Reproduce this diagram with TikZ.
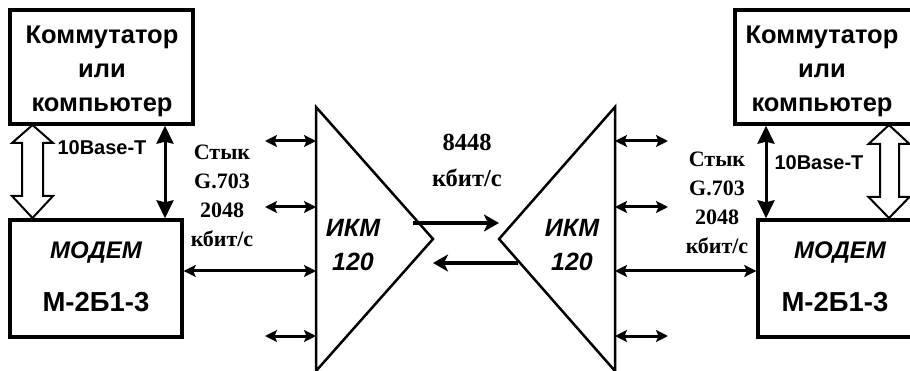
\documentclass[tikz,border=0pt]{standalone}
\usepackage{fontspec}
\setmainfont{Liberation Serif}
\newfontfamily\arialf{Liberation Sans}
\usetikzlibrary{arrows.meta}
\begin{document}
\begin{tikzpicture}[x=1pt,y=-1pt,
  box/.style={draw,line width=3.4pt,inner sep=0pt},
  tri/.style={draw,line width=2.5pt,line join=miter},
  sarr/.style={line width=3pt,{Stealth[length=12pt,width=12pt,inset=2.5pt]}-{Stealth[length=12pt,width=12pt,inset=2.5pt]}},
  varr/.style={line width=3pt,{Stealth[length=18pt,width=17pt,inset=2pt]}-{Stealth[length=18pt,width=17pt,inset=2pt]}},
  larr/.style={line width=3.8pt,-{Stealth[length=15pt,width=17pt,inset=4pt]}},
  hollow/.style={draw,line width=2pt,fill=white,line join=miter},
  boxtxt/.style={align=center,inner sep=0pt,font=\arialf\bfseries\fontsize{25.5}{34}\selectfont},
  modtxt/.style={inner sep=0pt,font=\arialf\bfseries\itshape\fontsize{24}{24}\selectfont},
  numtxt/.style={inner sep=0pt,font=\arialf\bfseries\fontsize{27.5}{28}\selectfont},
  basetxt/.style={inner sep=0pt,font=\arialf\bfseries\fontsize{20}{20}\selectfont},
  stxt/.style={align=center,inner sep=0pt,font=\bfseries\fontsize{22}{29}\selectfont},
  rtxt/.style={align=center,inner sep=0pt,font=\bfseries\fontsize{24.5}{36}\selectfont},
  ikm/.style={align=center,inner sep=0pt,font=\arialf\bfseries\itshape\fontsize{25}{34}\selectfont}
]
\clip (0,0) rectangle (910,371);
% boxes
\node[box,minimum width=183pt,minimum height=114pt] (swL) at (101.5,67) {};
\node[box,minimum width=172pt,minimum height=117pt] (mdL) at (96,278.5) {};
\node[box,minimum width=185pt,minimum height=114pt] (swR) at (827.5,67) {};
\node[box,minimum width=162pt,minimum height=117pt] (mdR) at (839,278.5) {};
% box texts
\node[boxtxt] (swLt) at (102,71) {Коммутатор\\или\\компьютер};
\node[boxtxt] (swRt) at (822,71) {Коммутатор\\или\\компьютер};
\node[modtxt] (mdLt1) at (96,253) {МОДЕМ};
\node[numtxt] (mdLt2) at (96,302) {М-2Б1-3};
\node[modtxt] (mdRt1) at (840,253) {МОДЕМ};
\node[numtxt] (mdRt2) at (835,302) {М-2Б1-3};
% hollow arrows
\draw[hollow] (32.5,125) -- (53,143) -- (43,143) -- (43,196) -- (53,196) -- (32.5,218)
  -- (12,196) -- (22,196) -- (22,143) -- (12,143) -- cycle;
\draw[hollow] (889,125) -- (909.5,144) -- (899,144) -- (899,197) -- (909.5,197) -- (889,218)
  -- (868.5,197) -- (880,197) -- (880,144) -- (868.5,144) -- cycle;
\node[basetxt] (btL) at (102,148) {10Base-T};
\node[basetxt] (btR) at (819,163) {10Base-T};
% vertical black arrows
\draw[varr] ([xshift=63.5pt]swL.south) -- ([xshift=69pt]mdL.north);
\draw[varr] ([xshift=-61.5pt]swR.south) -- ([xshift=-73pt]mdR.north);
% triangles
\coordinate (tLa) at (316,107);
\coordinate (tLtip) at (433,239);
\coordinate (tLb) at (316,371);
\coordinate (tRa) at (615,107);
\coordinate (tRtip) at (499,239);
\coordinate (tRb) at (615,371);
\draw[tri] (tLa) -- (tLtip) -- (tLb) -- cycle;
\draw[tri] (tRa) -- (tRtip) -- (tRb) -- cycle;
\node[ikm] (ikmL) at (353,245) {ИКМ\\120};
\node[ikm] (ikmR) at (572,245) {ИКМ\\120};
% interface arrows, left
\coordinate (l1) at (265,141); \coordinate (l1e) at (316,141);
\coordinate (l2) at (265,207); \coordinate (l2e) at (316,207);
\coordinate (l3) at (265,336); \coordinate (l3e) at (316,336);
\coordinate (l4e) at (316,271);
\draw[sarr] (l1) -- (l1e);
\draw[sarr] (l2) -- (l2e);
\draw[sarr] (l3) -- (l3e);
\draw[sarr] (mdL.east |- l4e) -- (l4e);
% interface arrows, right
\coordinate (r1) at (668,141); \coordinate (r1e) at (615,141);
\coordinate (r2) at (668,207); \coordinate (r2e) at (615,207);
\coordinate (r3) at (668,336); \coordinate (r3e) at (615,336);
\coordinate (r4e) at (615,271);
\draw[sarr] (r1e) -- (r1);
\draw[sarr] (r2e) -- (r2);
\draw[sarr] (r3e) -- (r3);
\draw[sarr] (r4e) -- (mdR.west |- r4e);
\node[stxt] (stL) at (222,196) {Стык\\G.703\\2048\\кбит/с};
\node[stxt] (stR) at (717,203) {Стык\\G.703\\2048\\кбит/с};
% line arrows
\coordinate (f1) at (413,223); \coordinate (f2) at (499,223);
\coordinate (b1) at (518,263); \coordinate (b2) at (433,263);
\draw[larr] (f1) -- (f2);
\draw[larr] (b1) -- (b2);
\node[rtxt] (rate) at (467,160) {8448\\кбит/с};
\end{tikzpicture}
\end{document}
